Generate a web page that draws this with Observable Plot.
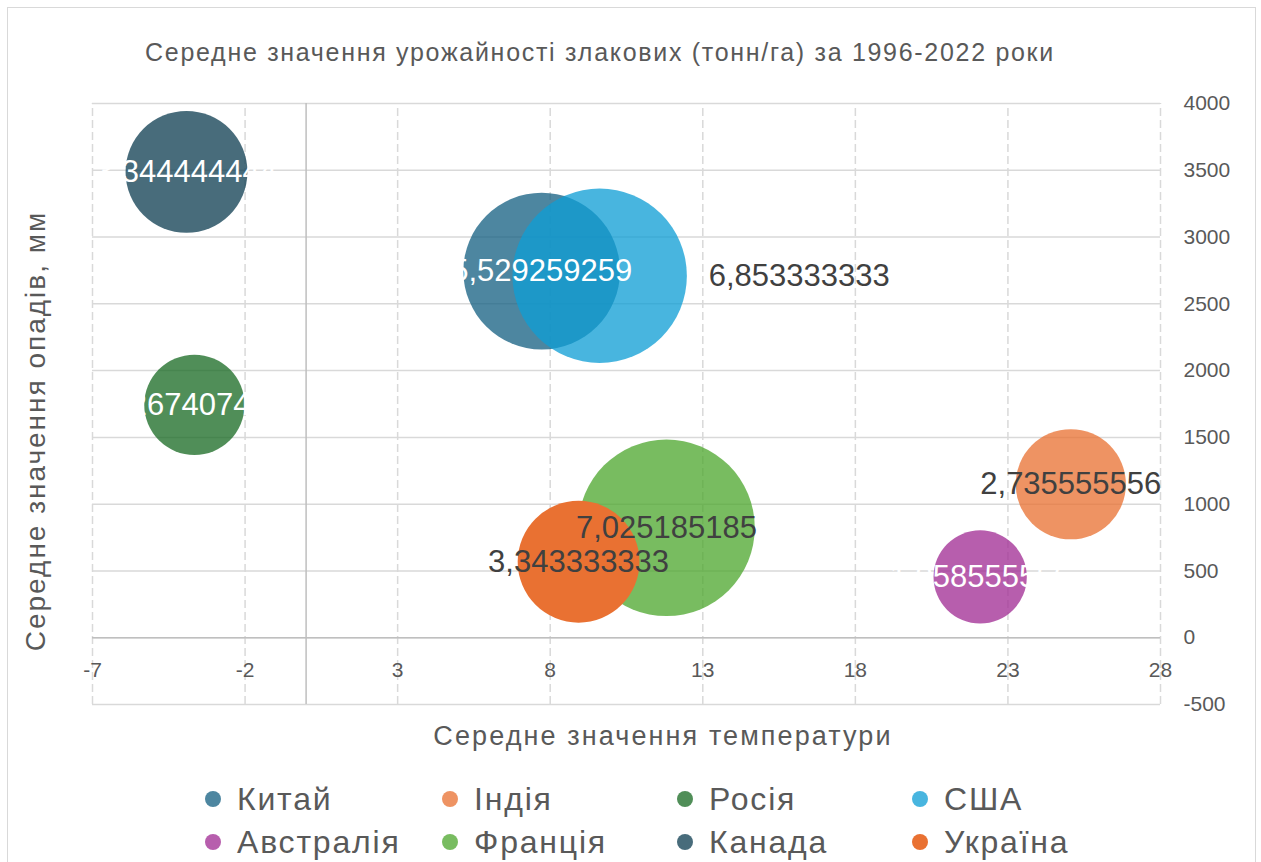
<!DOCTYPE html>
<html>
<head>
<meta charset="utf-8">
<script src="https://cdn.jsdelivr.net/npm/d3@7"></script>
<script src="https://cdn.jsdelivr.net/npm/@observablehq/plot@0.6"></script>
<style>
  html, body { margin: 0; padding: 0; background: #fff; overflow: hidden; }
  #wrap { position: relative; width: 1261px; height: 862px; overflow: hidden; font-family: "Liberation Sans", Arial, sans-serif; color: #595959; }
  #frame { position: absolute; left: 7px; top: 7px; width: 1249px; height: 900px; border: 1.5px solid #d9d9d9; box-sizing: border-box; }
  #chart { position: absolute; left: 0; top: 0; }
  #title { position: absolute; left: 0; width: 1200px; top: 40px; text-align: center; font-size: 25px; line-height: 25px; letter-spacing: 1.7px; white-space: nowrap; }
  #xlabel { position: absolute; left: 413px; width: 500px; top: 723px; text-align: center; font-size: 27px; line-height: 27px; letter-spacing: 2.1px; white-space: nowrap; }
  #ylabel { position: absolute; left: 36px; top: 431px; font-size: 28px; line-height: 28px; letter-spacing: 2px; white-space: nowrap; transform: translate(-50%, -50%) rotate(-90deg); }
  .leg { position: absolute; font-size: 32px; line-height: 32px; letter-spacing: 1.8px; white-space: nowrap; }
  .dot { position: absolute; width: 16px; height: 16px; border-radius: 50%; }
</style>
</head>
<body>
<div id="wrap">
  <div id="frame"></div>
  <div id="chart"></div>
  <div id="title">Середне значення урожайності злакових (тонн/га) за 1996-2022 роки</div>
  <div id="xlabel">Середне значення температури</div>
  <div id="ylabel">Середне значення опадів, мм</div>
</div>
<script>
const countries = ["Китай", "Індія", "Росія", "США", "Австралія", "Франція", "Канада", "Україна"];
const temperature = [7.72, 25.06, -3.66, 9.62, 22.09, 11.81, -3.92, 8.93];
const precipitation = [2745, 1149, 1744, 2710, 455, 823, 3488, 569];
const yieldAvg = [5.529259259, 2.735555556, 2.267407407, 6.853333333, 1.958555556, 7.025185185, 3.344444444, 3.343333333];
const colors = ["#156082", "#E97132", "#196B24", "#0F9ED5", "#A02B93", "#4EA72E", "#0E3E52", "#E97132"];
const opacities = [0.76, 0.76, 0.76, 0.76, 0.76, 0.76, 0.76, 1];
const labelWhite = [true, false, true, false, true, false, true, false];
const labelRight = [false, false, false, true, false, false, false, false];
const xTicks = [-7, -2, 3, 8, 13, 18, 23, 28];
const yTicks = [-500, 0, 500, 1000, 1500, 2000, 2500, 3000, 3500, 4000];

const rows = countries.map((c, i) => ({
  country: c, t: temperature[i], p: precipitation[i], v: yieldAvg[i],
  op: opacities[i], white: labelWhite[i], right: labelRight[i],
  label: yieldAvg[i].toFixed(9).replace(".", ",")
}));

const font = "'Liberation Sans', Arial, sans-serif";
const chart = Plot.plot({
  width: 1261, height: 862,
  marginLeft: 92, marginRight: 101, marginTop: 103, marginBottom: 158,
  style: { fontFamily: font, background: "transparent", overflow: "visible" },
  x: { domain: [-7, 28], axis: null },
  y: { domain: [-500, 4000], axis: null },
  r: { type: "sqrt", domain: [0, 7.025185185], range: [0, 88.3] },
  color: { domain: countries, range: colors },
  marks: [
    Plot.ruleY(yTicks, { y: d => d, stroke: "#d9d9d9", strokeWidth: 1.5 }),
    Plot.ruleX(xTicks, { x: d => d, y1: -500, y2: 4000, stroke: "#d9d9d9", strokeWidth: 1.5, strokeDasharray: "8,4" }),
    Plot.ruleX([0], { x: d => d, y1: -500, y2: 4000, stroke: "#bfbfbf", strokeWidth: 1.5 }),
    Plot.ruleY([0], { y: d => d, stroke: "#bfbfbf", strokeWidth: 1.5 }),
    Plot.text(yTicks, { y: d => d, text: d => String(d), frameAnchor: "right", textAnchor: "start", dx: 23, fontSize: 21, fill: "#595959" }),
    Plot.text(xTicks, { x: d => d, y: () => 0, text: d => String(d), dy: 33, fontSize: 21, fill: "#595959" }),
    Plot.dot(rows, { x: "t", y: "p", r: "v", fill: "country", fillOpacity: "op", stroke: "none", sort: null }),
    Plot.text(rows.filter(d => !d.right), { x: "t", y: "p", text: "label", fontSize: 31, fill: d => d.white ? "white" : "#404040" }),
    Plot.text(rows.filter(d => d.right), { x: "t", y: "p", text: "label", fontSize: 31, fill: "#404040", textAnchor: "start", dx: 109 })
  ]
});
document.getElementById("chart").appendChild(chart);

const wrap = document.getElementById("wrap");
const colLeft = [205, 442, 677, 912];
const rowTop = [783, 826];
countries.forEach((c, i) => {
  const col = i % 4, row = Math.floor(i / 4);
  const dot = document.createElement("div");
  dot.className = "dot";
  dot.style.left = colLeft[col] + "px";
  dot.style.top = (rowTop[row] + 8) + "px";
  dot.style.background = colors[i];
  dot.style.opacity = opacities[i];
  wrap.appendChild(dot);
  const t = document.createElement("div");
  t.className = "leg";
  t.style.left = (colLeft[col] + 32) + "px";
  t.style.top = rowTop[row] + "px";
  t.textContent = c;
  wrap.appendChild(t);
});
</script>
</body>
</html>
